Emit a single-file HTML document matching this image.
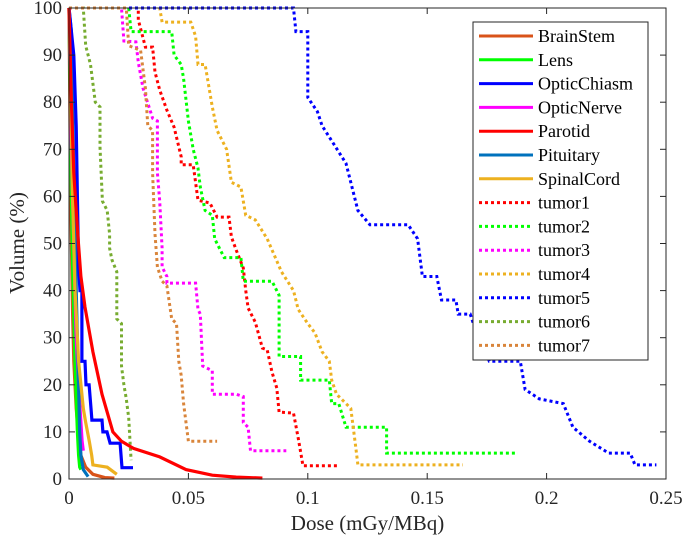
<!DOCTYPE html>
<html><head><meta charset="utf-8"><style>
body{margin:0;background:#fff}
svg{display:block;font-family:"Liberation Serif",serif}
</style></head><body>
<svg id="chart" width="685" height="542" xmlns="http://www.w3.org/2000/svg"></svg>
<script>
const xTicks=[0,0.05,0.1,0.15,0.2,0.25];
const xTickLabels=["0","0.05","0.1","0.15","0.2","0.25"];
const yTicks=[0,10,20,30,40,50,60,70,80,90,100];
const seriesNames=["BrainStem","Lens","OpticChiasm","OpticNerve","Parotid","Pituitary","SpinalCord","tumor1","tumor2","tumor3","tumor4","tumor5","tumor6","tumor7"];
const brainStem=[[0,100],[0.0005,70],[0.001,50],[0.0015,35],[0.002,25],[0.003,15],[0.004,9],[0.005,5],[0.007,2.5],[0.01,1],[0.015,0.3],[0.019,0.2]];
const lens=[[0,100],[0.0005,80],[0.001,60],[0.0015,45],[0.002,35],[0.0025,25],[0.003,17],[0.0035,10],[0.004,5],[0.0045,2.5],[0.005,2]];
const opticChiasm=[[0,100],[0.002,90],[0.003,75],[0.0035,60],[0.004,45],[0.0046,40],[0.0054,40],[0.0054,25],[0.0067,25],[0.0071,20],[0.0084,20],[0.0092,15],[0.0096,12.5],[0.0138,12.5],[0.0142,10],[0.0159,10],[0.0172,7.6],[0.0214,7.6],[0.0222,2.4],[0.0268,2.4]];
const opticNerve=[[0,100],[0.001,70],[0.002,50],[0.003,30],[0.004,20],[0.005,12],[0.0055,8],[0.006,6]];
const parotid=[[0,100],[0.0005,90],[0.001,80],[0.002,65],[0.003,57],[0.0038,51],[0.005,43],[0.0067,36.5],[0.010,27],[0.0138,18],[0.0184,10],[0.022,8],[0.027,6.5],[0.038,4.7],[0.049,2],[0.06,0.8],[0.07,0.4],[0.081,0.2]];
const pituitary=[[0,100],[0.001,95],[0.0015,80],[0.002,65],[0.0025,55],[0.003,45],[0.003,40],[0.0035,30],[0.004,20],[0.0045,10],[0.005,5],[0.006,2],[0.008,0.5]];
const spinalCord=[[0,100],[0.0008,80],[0.0015,60],[0.0025,40],[0.004,25],[0.006,15],[0.007,12],[0.0085,8],[0.0095,5],[0.01,3],[0.016,2.5],[0.02,1]];
const tumor1=[[0,100],[0.029,100],[0.029,97.5],[0.032,91.7],[0.035,91.7],[0.036,86.4],[0.038,82.6],[0.041,78.3],[0.044,74.7],[0.047,68.4],[0.047,66.7],[0.052,66.7],[0.054,59.2],[0.059,58.6],[0.062,55.6],[0.067,55.6],[0.068,51.4],[0.07,48.6],[0.073,44.8],[0.074,40.1],[0.075,36.3],[0.078,33.3],[0.081,27.8],[0.083,27.4],[0.085,22.7],[0.087,19.3],[0.088,14.2],[0.094,14],[0.096,8.7],[0.098,2.8],[0.113,2.8]];
const tumor2=[[0,100],[0.025,100],[0.026,95],[0.043,95],[0.044,90],[0.047,88],[0.048,85],[0.05,76],[0.052,70],[0.054,66],[0.055,62],[0.057,57],[0.06,56],[0.061,51],[0.063,49],[0.065,47],[0.072,47],[0.073,42],[0.085,42],[0.088,39],[0.088,26],[0.097,26],[0.097,21],[0.109,21],[0.11,16],[0.113,16],[0.116,11],[0.133,11],[0.133,5.5],[0.188,5.5]];
const tumor3=[[0,100],[0.022,100],[0.023,93],[0.028,92.8],[0.029,88.5],[0.031,83],[0.035,76.6],[0.037,76],[0.037,65],[0.038,59],[0.039,49],[0.039,45],[0.041,43],[0.041,41.6],[0.053,41.6],[0.054,36],[0.055,35],[0.056,24],[0.06,23],[0.06,18],[0.07,18],[0.073,17.5],[0.073,12],[0.075,11],[0.076,6],[0.091,6]];
const tumor4=[[0,100],[0.038,100],[0.039,97],[0.051,97],[0.053,94],[0.054,88],[0.057,88],[0.06,79],[0.062,74],[0.066,70],[0.068,63],[0.072,62],[0.074,56],[0.078,55],[0.083,51],[0.089,44],[0.094,40],[0.096,36],[0.1,33],[0.103,31],[0.106,27],[0.109,25],[0.11,21],[0.112,18],[0.116,16],[0.118,15],[0.119,11],[0.12,7],[0.121,3],[0.165,3]];
const tumor5=[[0,100],[0.094,100],[0.095,95],[0.1,95],[0.1,81],[0.104,78],[0.106,75],[0.111,71],[0.116,67],[0.121,57],[0.126,54],[0.142,54],[0.146,51],[0.148,43],[0.154,43],[0.156,38],[0.162,38],[0.163,35],[0.168,35],[0.17,32],[0.176,25],[0.189,25],[0.191,19],[0.197,17],[0.207,16],[0.211,11],[0.218,8],[0.226,5.5],[0.235,5.5],[0.237,3],[0.246,3]];
const tumor6=[[0,100],[0.006,100],[0.007,92],[0.009,88],[0.01,84],[0.011,80],[0.013,79],[0.013,70.5],[0.014,59],[0.016,57],[0.017,52],[0.017,49],[0.018,46.5],[0.02,44],[0.02,34],[0.022,33],[0.022,24],[0.023,20],[0.024,17],[0.025,13],[0.026,4]];
const tumor7=[[0,100],[0.024,100],[0.025,92],[0.03,91],[0.032,83],[0.033,75],[0.035,74],[0.035,65],[0.036,52],[0.037,45],[0.039,42],[0.041,41],[0.043,34],[0.045,33],[0.046,25],[0.047,22],[0.048,16],[0.05,8],[0.062,8]];
const seriesData=[brainStem,lens,opticChiasm,opticNerve,parotid,pituitary,spinalCord,tumor1,tumor2,tumor3,tumor4,tumor5,tumor6,tumor7];
const colors=["#D95319","#00FF00","#0000FF","#FF00FF","#FF0000","#0072BD","#EDB120","#FF0000","#00FF00","#FF00FF","#EDB120","#0000FF","#77AC30","#D9853B"];
const NS="http://www.w3.org/2000/svg";
const svg=document.getElementById('chart');
const X0=69,X1=666,Y0=479,Y1=8;
const xs=d=>X0+(d/0.25)*(X1-X0);
const ys=v=>Y0-(v/100)*(Y0-Y1);
function mk(t,a){const e=document.createElementNS(NS,t);for(const k in a)e.setAttribute(k,a[k]);return e;}
const order=[7,8,9,10,11,12,13,0,1,3,5,6,2,4];
const plot=mk('g',{});
svg.appendChild(plot);
order.forEach(i=>{
  const pts=seriesData[i].map(p=>xs(p[0]).toFixed(1)+','+ys(p[1]).toFixed(1)).join(' ');
  const dotted=i>=7;
  const pl=mk('polyline',{points:pts,fill:'none',stroke:colors[i],'stroke-width':dotted?3:3.2,'stroke-dasharray':dotted?'3 3':'none','stroke-linejoin':'miter'});
  
  
  plot.appendChild(pl);
});
const box=mk('rect',{x:X0,y:Y1,width:X1-X0,height:Y0-Y1,fill:'none',stroke:'#262626','stroke-width':1});


svg.appendChild(box);
xTicks.forEach((t,i)=>{
  const x=xs(t);
  svg.appendChild(mk('line',{x1:x,y1:Y0,x2:x,y2:Y0-6,stroke:'#262626'}));
  svg.appendChild(mk('line',{x1:x,y1:Y1,x2:x,y2:Y1+6,stroke:'#262626'}));
  const tx=mk('text',{x:x,y:Y0+25,'text-anchor':'middle','font-size':19,fill:'#262626'});
  tx.textContent=xTickLabels[i];
  
  
  svg.appendChild(tx);
});
yTicks.forEach(t=>{
  const y=ys(t);
  svg.appendChild(mk('line',{x1:X0,y1:y,x2:X0+6,y2:y,stroke:'#262626'}));
  svg.appendChild(mk('line',{x1:X1,y1:y,x2:X1-6,y2:y,stroke:'#262626'}));
  const tx=mk('text',{x:X0-7,y:y+6,'text-anchor':'end','font-size':19,fill:'#262626'});
  tx.textContent=String(t);
  
  
  svg.appendChild(tx);
});
const xl=mk('text',{x:(X0+X1)/2,y:530,'text-anchor':'middle','font-size':21,fill:'#262626'});
xl.textContent='Dose (mGy/MBq)';


svg.appendChild(xl);
const yl=mk('text',{x:0,y:0,'text-anchor':'middle','font-size':21,fill:'#262626',transform:'translate(24,243) rotate(-90)'});
yl.textContent='Volume (%)';


svg.appendChild(yl);
const lg=mk('g',{});


svg.appendChild(lg);
lg.appendChild(mk('rect',{x:473,y:22,width:175,height:338,fill:'#fff',stroke:'#262626','stroke-width':1}));
seriesNames.forEach((n,i)=>{
  const y=36+i*23.8;
  const g=mk('g',{});
  
  
  g.appendChild(mk('line',{x1:479,y1:y,x2:533,y2:y,stroke:colors[i],'stroke-width':3,'stroke-dasharray':i>=7?'3 3':'none'}));
  const t=mk('text',{x:538,y:y+6,'font-size':18,fill:'#000'});
  t.textContent=n;
  g.appendChild(t);
  lg.appendChild(g);
});
</script>
</body></html>
